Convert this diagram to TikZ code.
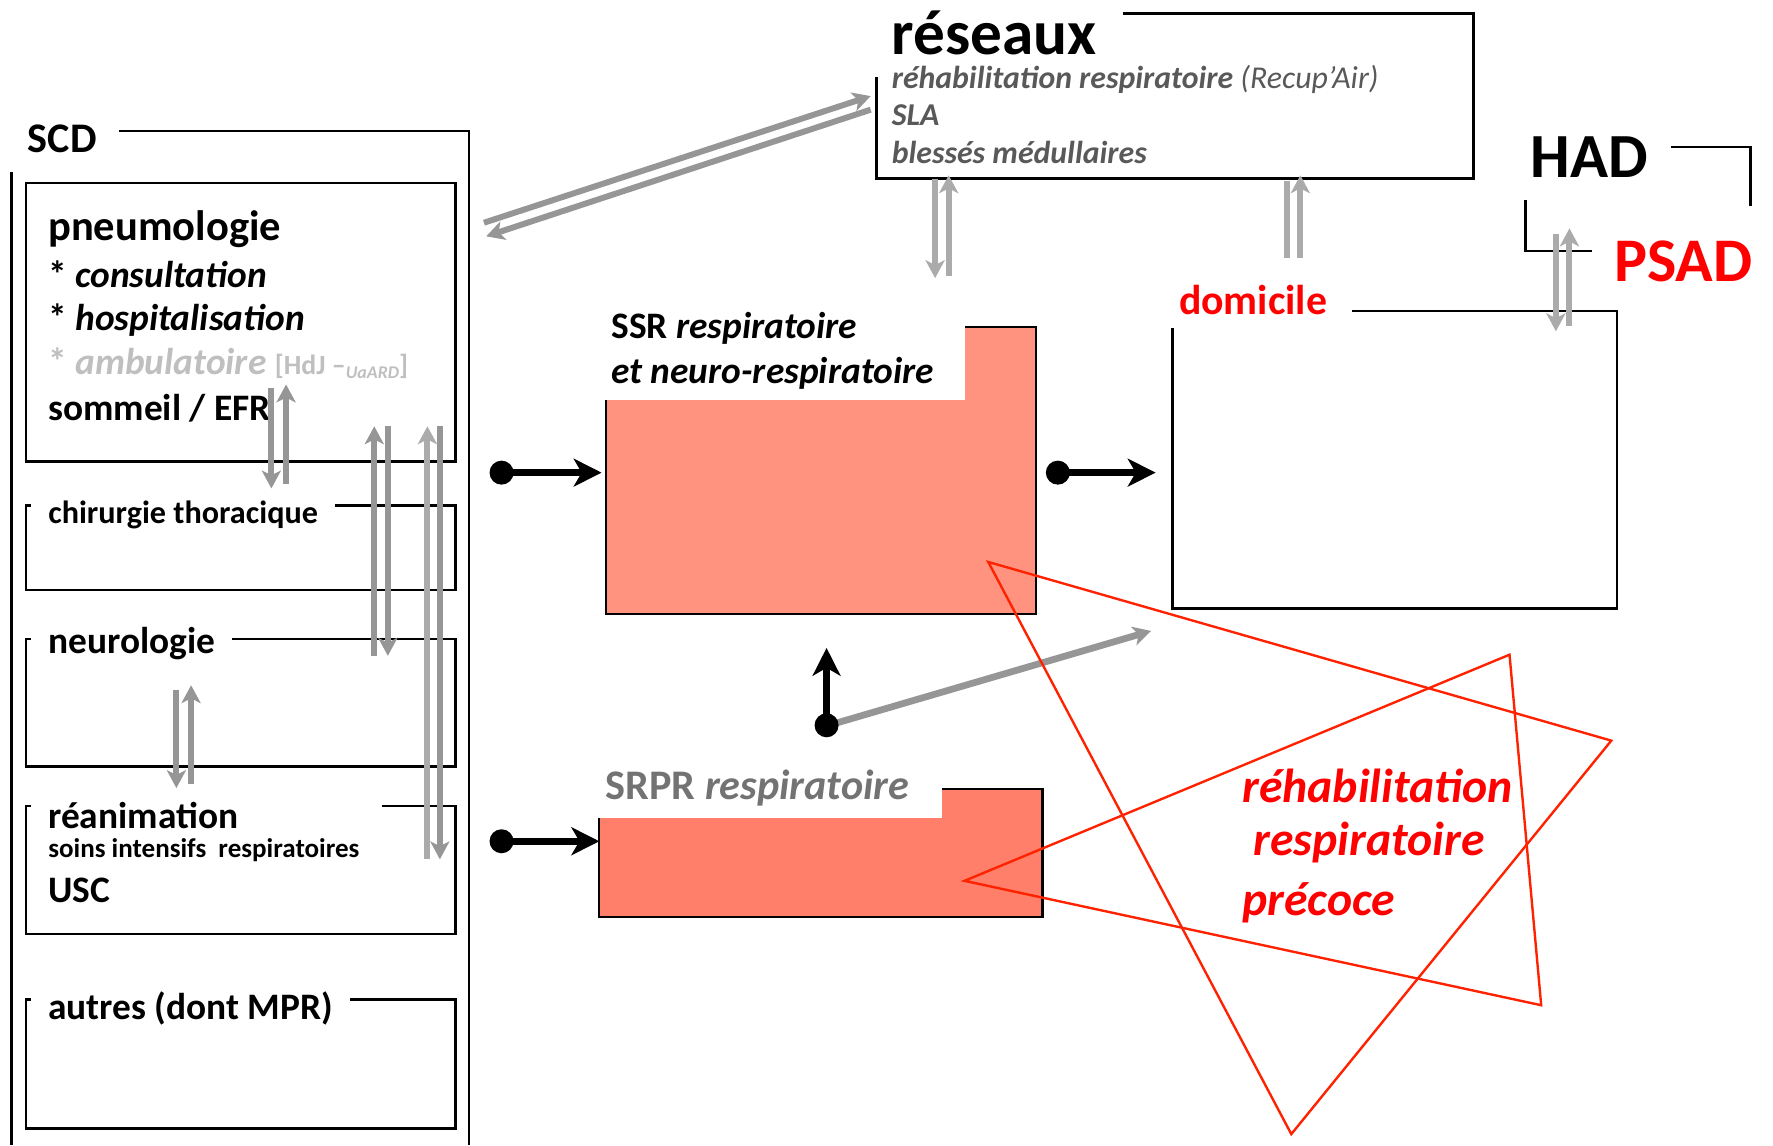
\documentclass[tikz,border=0pt]{standalone}
\usepackage{fontspec}
\setmainfont{Carlito}
\usetikzlibrary{arrows.meta}

\definecolor{linkgray}{HTML}{969696}
\definecolor{lightlink}{HTML}{ABABAB}
\definecolor{ssrfill}{HTML}{FF937F}
\definecolor{srprfill}{HTML}{FF7F6A}
\definecolor{netgray}{HTML}{595959}
\definecolor{palegray}{HTML}{BFBFBF}
\definecolor{srprgray}{HTML}{737373}
\definecolor{trired}{HTML}{FF2200}

\newcommand{\fsz}[1]{\fontsize{#1}{#1}\selectfont}

\begin{document}
\begin{tikzpicture}[x=0.01cm, y=-0.01cm,
    every node/.style={inner sep=0pt, anchor=west},
    box/.style={draw=black, line width=0.6pt},
    legend/.style={fill=white, inner xsep=0.15cm, inner ysep=0.08cm, font=\bfseries\fsz{9.4}},
    link/.style={draw=linkgray, line width=1.5pt, -{Stealth[length=4.5pt, width=4.8pt, inset=1.2pt]}},
    pale/.style={link, draw=lightlink},
    flow/.style={line width=1.8pt, {Circle[length=6pt, width=6pt]}-{Stealth[length=7pt, width=7pt, inset=2pt]}},
    tri/.style={draw=trired, line width=0.6pt}]

    \useasboundingbox (0,0) rectangle (1568,1013);

    % SCD and its services
    \node (scd) [font=\bfseries\fsz{10.6}] at (24,123) {SCD};
    \draw[box] (105,116) -| (415,1013);
    \draw[box] (10,152) -- (10,1013);

    \draw[box] (23,162) rectangle (403,408);
    \node (pneumo) [font=\bfseries\fsz{10.7}] at (42,203) {pneumologie};
    \node (consult) [font=\bfseries\fsz{9.4}] at (42,243) {* \textit{consultation}};
    \node (hospit) [font=\bfseries\fsz{9.4}] at (42,283) {* \textit{hospitalisation}};
    \node (ambu) [font=\bfseries\fsz{9.4}, text=palegray] at (42,321)
        {* \textit{ambulatoire} {\fsz{7}[HdJ –\raisebox{-1pt}{\fsz{4.5}\textit{UaARD}}]}};
    \node (sommeil) [font=\bfseries\fsz{9.4}] at (42,361) {sommeil / EFR};

    \draw[box] (23,447) rectangle (403,522);
    \node (chir) [legend, font=\bfseries\fsz{8.1}] at (27,455) {chirurgie thoracique};

    \draw[box] (23,565) rectangle (403,678);
    \node (neuro) [legend] at (27,569) {neurologie};

    \draw[box] (23,713) rectangle (403,826);
    \node (rea) [legend, text width=2.8cm] at (27,721) {réanimation};
    \node (soins) [font=\bfseries\fsz{6.8}] at (42,752) {soins intensifs\ \ respiratoires};
    \node (usc) [font=\bfseries\fsz{9.4}] at (42,787) {USC};

    \draw[box] (23,884) rectangle (403,998);
    \node (autres) [legend] at (27,892) {autres (dont MPR)};

    % reseaux
    \draw[box] (993,12) -| (1303,158) -| (775,68);
    \node (reseaux) [font=\bfseries\fsz{15.9}] at (788,29) {réseaux};
    \node (recup) [font=\bfseries\itshape\fsz{8}, text=netgray] at (788,70)
        {réhabilitation respiratoire {\mdseries(Recup’Air)}};
    \node (sla) [font=\bfseries\itshape\fsz{8}, text=netgray] at (788,102) {SLA};
    \node (blesses) [font=\bfseries\itshape\fsz{8}, text=netgray] at (788,135) {blessés médullaires};

    % HAD / PSAD
    \node (had) [font=\bfseries\fsz{15.8}] at (1353,139) {HAD};
    \draw[box] (1478,130) -| (1548,182);
    \draw[box] (1349,177) |- (1408,222);
    \node (psad) [font=\bfseries\fsz{15.6}, text=red] at (1427,231) {PSAD};

    % domicile
    \draw[box] (1196,275) -| (1430,538) -| (1037,290);
    \node (domicile) [font=\bfseries\fsz{10.5}, text=red] at (1042,265) {domicile};

    % SSR
    \draw[box, fill=ssrfill] (536,289) rectangle (916,543);
    \fill[white] (528,276) rectangle (853,354);
    \node (ssr) [font=\bfseries\fsz{9.4}] at (540,290) {SSR \textit{respiratoire}};
    \node (ssrb) [font=\bfseries\itshape\fsz{9.4}] at (540,330) {et neuro-respiratoire};

    % SRPR
    \draw[box, fill=srprfill] (530,698) rectangle (922,811);
    \fill[white] (522,676) rectangle (833,723);
    \node (srpr) [font=\bfseries\fsz{10.6}, text=srprgray] at (535,697) {SRPR \textit{respiratoire}};

    % ends of the links
    \coordinate (pc1) at (240,343); \coordinate (pc2) at (240,432);
    \coordinate (cp1) at (253,428); \coordinate (cp2) at (253,340);
    \coordinate (np1) at (331,580); \coordinate (np2) at (331,377);
    \coordinate (pn1) at (343,377); \coordinate (pn2) at (343,580);
    \coordinate (rp1) at (378,760); \coordinate (rp2) at (378,377);
    \coordinate (pr1) at (389,377); \coordinate (pr2) at (389,760);
    \coordinate (nr1) at (156,610); \coordinate (nr2) at (156,697);
    \coordinate (rn1) at (169,693); \coordinate (rn2) at (169,606);
    \coordinate (sn1) at (428,197); \coordinate (sn2) at (770,85);
    \coordinate (ns1) at (770,97);  \coordinate (ns2) at (430,209);
    \coordinate (ns3) at (827,158); \coordinate (ns4) at (827,246);
    \coordinate (sn3) at (839,244); \coordinate (sn4) at (839,155);
    \coordinate (dn1) at (1138,228); \coordinate (dn2) at (1138,160);
    \coordinate (dn3) at (1150,228); \coordinate (dn4) at (1150,155);
    \coordinate (hd1) at (1376,207); \coordinate (hd2) at (1376,293);
    \coordinate (dh1) at (1388,288); \coordinate (dh2) at (1388,202);

    \draw[link] (pc1) -- (pc2);
    \draw[link] (cp1) -- (cp2);
    \draw[link] (np1) -- (np2);
    \draw[link] (pn1) -- (pn2);
    \draw[pale] (rp1) -- (rp2);
    \draw[link] (pr1) -- (pr2);
    \draw[link] (nr1) -- (nr2);
    \draw[link] (rn1) -- (rn2);
    \draw[link] (sn1) -- (sn2);
    \draw[link] (ns1) -- (ns2);
    \draw[pale] (ns3) -- (ns4);
    \draw[pale] (sn3) -- (sn4);
    \draw[pale, -] (dn1) -- (dn2);
    \draw[pale] (dn3) -- (dn4);
    \draw[pale] (hd1) -- (hd2);
    \draw[pale] (dh1) -- (dh2);

    % flows
    \coordinate (in1) at (433,418);  \coordinate (in2) at (532,418);
    \coordinate (out1) at (925,418); \coordinate (out2) at (1022,418);
    \coordinate (in3) at (433,744);  \coordinate (in4) at (530,744);
    \coordinate (up1) at (731,652);  \coordinate (up2) at (731,573);
    \coordinate (hub) at (731,642);  \coordinate (home) at (1018,558);
    \draw[link, line width=1.7pt] (hub) -- (home);
    \draw[flow] (in1) -- (in2);
    \draw[flow] (out1) -- (out2);
    \draw[flow] (in3) -- (in4);
    \draw[flow] (up1) -- (up2);

    % early rehabilitation
    \draw[tri] (874,497) -- (1425,655) -- (1142,1003) -- cycle;
    \draw[tri] (853,779) -- (1335,579) -- (1363,889) -- cycle;
    \node (rrp1) [font=\bfseries\itshape\fsz{12}, text=red] at (1098,695) {réhabilitation};
    \node (rrp2) [font=\bfseries\itshape\fsz{12}, text=red] at (1108,745) {respiratoire};
    \node (rrp3) [font=\bfseries\itshape\fsz{12}, text=red] at (1098,798) {précoce};
\end{tikzpicture}
\end{document}
